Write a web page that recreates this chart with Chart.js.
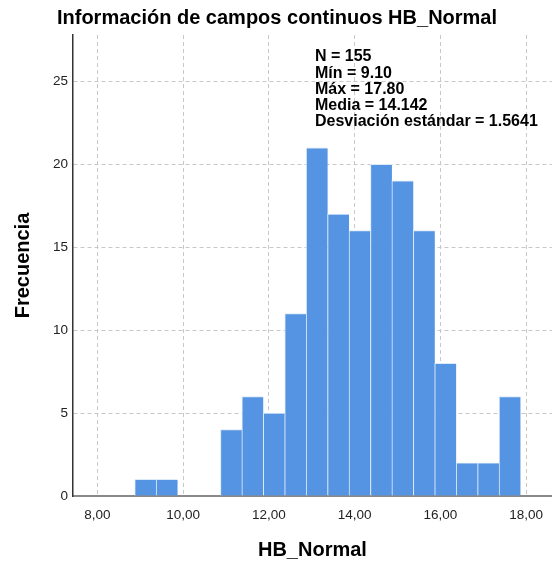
<!DOCTYPE html>
<html>
<head>
<meta charset="utf-8">
<script src="https://cdn.jsdelivr.net/npm/chart.js@4.4.1/dist/chart.umd.min.js"></script>
<style>
  html, body { margin: 0; padding: 0; background: #fff; }
  #wrap { width: 554px; height: 567px; }
</style>
</head>
<body>
<div id="wrap"><canvas id="chart" width="554" height="567"></canvas></div>
<script>
// histogram bins of HB_Normal (bin centres, width ~0.5)
const binCenters = [9.12, 9.62, 10.12, 10.62, 11.12, 11.62, 12.12, 12.62, 13.12,
  13.62, 14.12, 14.62, 15.12, 15.62, 16.12, 16.62, 17.12, 17.62];
const counts = [1, 1, 0, 0, 4, 6, 5, 11, 21, 17, 16, 20, 19, 16, 8, 2, 2, 6];
const xTicks = [8, 10, 12, 14, 16, 18];
const yTicks = [0, 5, 10, 15, 20, 25];
const statLines = [
  'N = 155',
  'Mín = 9.10',
  'Máx = 17.80',
  'Media = 14.142',
  'Desviación estándar = 1.5641'
];

const FONT = '"Liberation Sans", Arial, sans-serif';

const statsBox = {
  id: 'statsBox',
  afterDraw(chart) {
    const ctx = chart.ctx;
    ctx.save();
    ctx.fillStyle = '#000';
    ctx.font = 'bold 16px ' + FONT;
    ctx.textBaseline = 'middle';
    statLines.forEach((line, i) => {
      ctx.fillText(line, 315, 57 + i * 16.2);
    });
    ctx.restore();
  }
};

const ctx = document.getElementById('chart');
new Chart(ctx, {
  type: 'bar',
  data: {
    datasets: [{
      data: binCenters.map((c, i) => ({ x: c, y: counts[i] })),
      backgroundColor: '#5594e2',
      borderColor: '#dce9f8',
      borderWidth: { left: 1, top: 1, right: 0, bottom: 0 },
      borderSkipped: false,
      barPercentage: 1,
      categoryPercentage: 1
    }]
  },
  options: {
    responsive: false,
    animation: false,
    layout: { padding: 0 },
    plugins: {
      legend: { display: false },
      tooltip: { enabled: false },
      title: {
        display: true,
        text: 'Información de campos continuos HB_Normal',
        color: '#000',
        font: { family: FONT, size: 20, weight: 'bold' },
        padding: { top: 6, bottom: 5 }
      }
    },
    scales: {
      x: {
        type: 'linear',
        offset: false,
        min: 7.43,
        max: 18.6,
        afterFit: (scale) => { scale.height = 71; },
        afterBuildTicks: (scale) => { scale.ticks = xTicks.map(v => ({ value: v })); },
        ticks: {
          color: '#222',
          font: { family: FONT, size: 13.5 },
          padding: 11,
          maxRotation: 0,
          callback: (v) => v.toFixed(2).replace('.', ',')
        },
        grid: { color: '#c8c8c8', lineWidth: 1, drawTicks: false, offset: false },
        border: { color: '#8a8a8a', width: 2, dash: [4, 3] },
        title: {
          display: true,
          text: 'HB_Normal',
          color: '#000',
          font: { family: FONT, size: 20, weight: 'bold' },
          padding: { top: 0, bottom: 5 }
        }
      },
      y: {
        min: 0,
        max: 27.8,
        afterFit: (scale) => { scale.width = 73; },
        afterBuildTicks: (scale) => { scale.ticks = yTicks.map(v => ({ value: v })); },
        ticks: {
          color: '#222',
          font: { family: FONT, size: 13.5 },
          padding: 5
        },
        grid: { color: '#c8c8c8', lineWidth: 1, drawTicks: false },
        border: { color: '#333', width: 1.5, dash: [4, 3] },
        title: {
          display: true,
          text: 'Frecuencia',
          color: '#000',
          font: { family: FONT, size: 20, weight: 'bold' },
          padding: { top: 11.5, bottom: 0 }
        }
      }
    }
  },
  plugins: [statsBox]
});
</script>
</body>
</html>
